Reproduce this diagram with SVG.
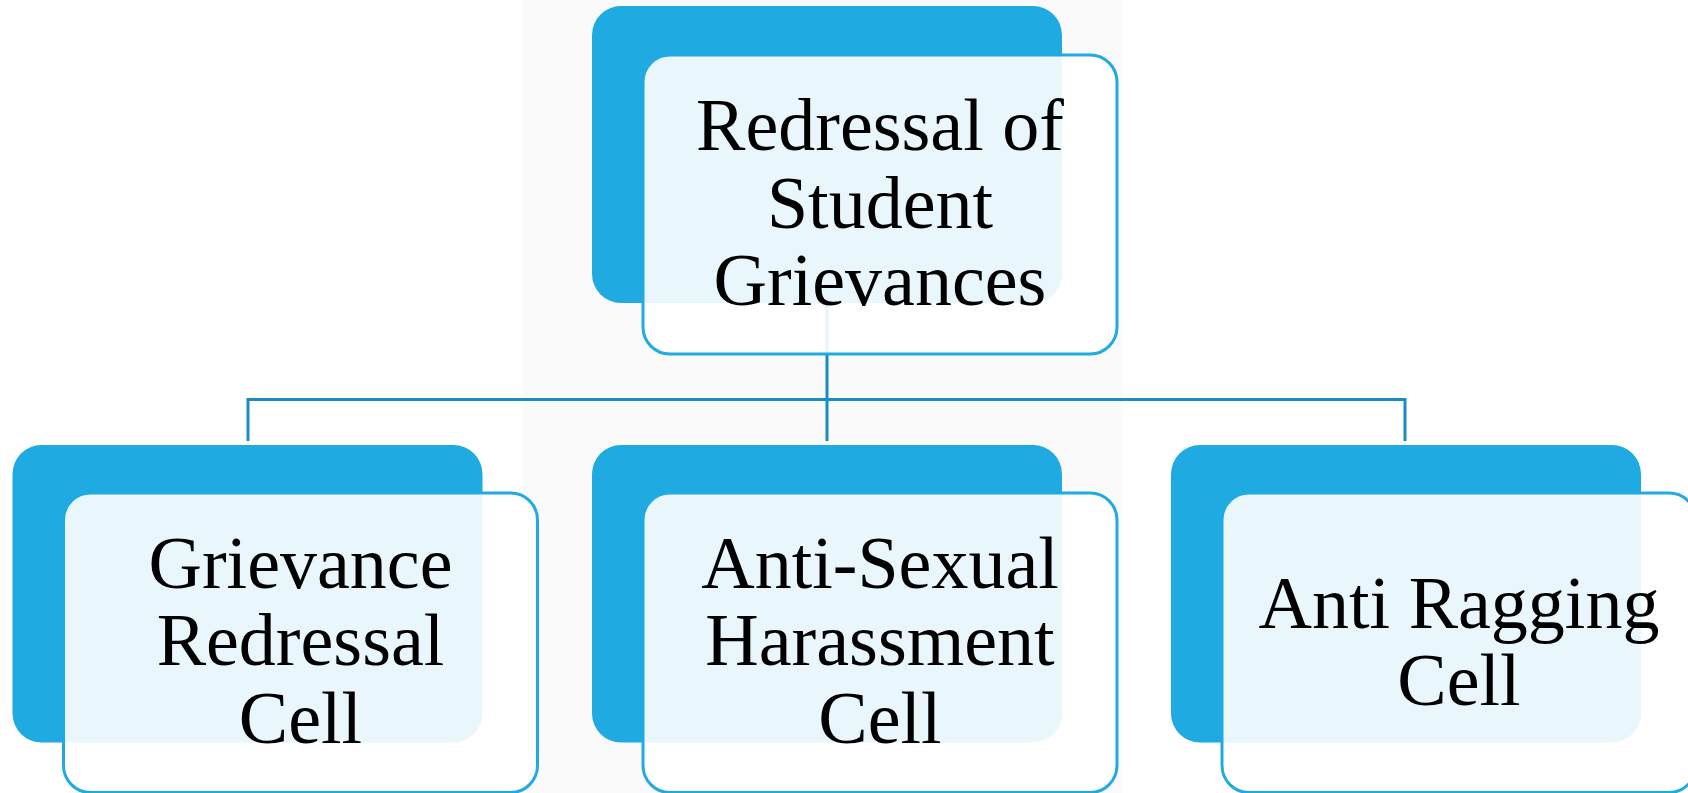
<svg xmlns="http://www.w3.org/2000/svg" width="1688" height="793" viewBox="0 0 1688 793">
<style>
.dark{fill:#1fabe2;}
.light{fill:#ffffff;fill-opacity:0.9;stroke:#1fabe2;stroke-width:3;}
.conn{fill:none;stroke:#1a8cbf;stroke-width:3;}
.lbl{font-family:"Liberation Serif","Times New Roman",serif;font-size:74px;fill:#000;text-anchor:middle;}
</style>
<rect x="523" y="0" width="599" height="793" fill="#fafafa"/>
<g id="connectors">
<path class="conn" d="M827 303 V441"/>
<path class="conn" d="M248 441 V399.5 H1405 V441"/>
</g>
<g id="node-root">
<rect class="dark" x="592" y="6" width="470" height="297" rx="29"/>
<rect class="light" x="643" y="55" width="474" height="299" rx="27"/>
<text class="lbl" x="880" y="150">Redressal of</text>
<text class="lbl" x="880" y="228">Student</text>
<text class="lbl" x="880" y="305">Grievances</text>
</g>
<g id="node-grievance">
<rect class="dark" x="12.5" y="445" width="470" height="297.5" rx="29"/>
<rect class="light" x="63.5" y="493" width="474" height="299.5" rx="27"/>
<text class="lbl" x="300.5" y="588">Grievance</text>
<text class="lbl" x="300.5" y="665">Redressal</text>
<text class="lbl" x="300.5" y="743">Cell</text>
</g>
<g id="node-antisexual">
<rect class="dark" x="592" y="445" width="470" height="297.5" rx="29"/>
<rect class="light" x="643" y="493" width="474" height="299.5" rx="27"/>
<text class="lbl" x="880" y="588">Anti-Sexual</text>
<text class="lbl" x="880" y="665">Harassment</text>
<text class="lbl" x="880" y="743">Cell</text>
</g>
<g id="node-antiragging">
<rect class="dark" x="1171" y="445" width="470" height="297.5" rx="29"/>
<rect class="light" x="1222" y="493" width="474" height="299.5" rx="27"/>
<text class="lbl" x="1459" y="628">Anti Ragging</text>
<text class="lbl" x="1459" y="705">Cell</text>
</g>
</svg>
